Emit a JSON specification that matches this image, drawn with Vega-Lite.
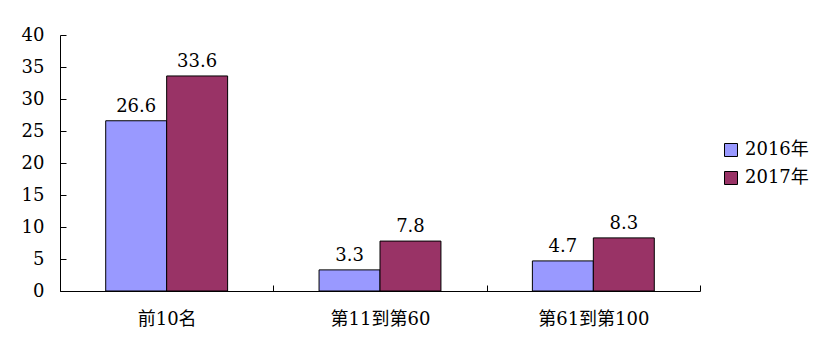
{
  "$schema": "https://vega.github.io/schema/vega-lite/v6.json",
  "width": 640,
  "height": 256,
  "autosize": {"type": "none"},
  "padding": {"left": 60, "top": 35, "right": 122, "bottom": 64},
  "background": "white",
  "config": {
    "view": {"stroke": null},
    "font": "'DejaVu Serif', 'Noto Sans CJK SC'",
    "axis": {
      "domainColor": "black",
      "tickColor": "black",
      "labelColor": "black",
      "labelFont": "'DejaVu Serif', 'Noto Sans CJK SC'",
      "labelFontSize": 18,
      "grid": false,
      "title": null
    },
    "legend": {
      "labelFont": "'DejaVu Serif', 'Noto Sans CJK SC'",
      "labelFontSize": 18,
      "labelColor": "black"
    }
  },
  "data": {
    "values": [
      {"category": "前10名", "year": "2016年", "value": 26.6},
      {"category": "前10名", "year": "2017年", "value": 33.6},
      {"category": "第11到第60", "year": "2016年", "value": 3.3},
      {"category": "第11到第60", "year": "2017年", "value": 7.8},
      {"category": "第61到第100", "year": "2016年", "value": 4.7},
      {"category": "第61到第100", "year": "2017年", "value": 8.3}
    ]
  },
  "encoding": {
    "x": {
      "field": "category",
      "type": "nominal",
      "sort": ["前10名", "第11到第60", "第61到第100"],
      "scale": {"paddingInner": 0, "paddingOuter": 0},
      "axis": {"labelAngle": 0, "tickBand": "extent", "tickSize": -6, "labelPadding": 25, "domainWidth": 1}
    },
    "xOffset": {
      "field": "year",
      "type": "nominal",
      "scale": {"paddingInner": 0, "paddingOuter": 0.75}
    },
    "y": {
      "field": "value",
      "type": "quantitative",
      "scale": {"domain": [0, 40], "nice": false},
      "axis": {"values": [0, 5, 10, 15, 20, 25, 30, 35, 40], "tickSize": -6, "labelPadding": 22}
    }
  },
  "layer": [
    {
      "mark": {"type": "bar", "stroke": "black", "strokeWidth": 1},
      "encoding": {
        "color": {
          "field": "year",
          "type": "nominal",
          "scale": {"domain": ["2016年", "2017年"], "range": ["#9999FF", "#993366"]},
          "legend": {
            "title": null,
            "orient": "none",
            "legendX": 662,
            "legendY": 106,
            "symbolType": "square",
            "symbolSize": 169,
            "symbolStrokeColor": "black",
            "symbolStrokeWidth": 1,
            "symbolOpacity": 1,
            "rowPadding": 10,
            "labelOffset": 5
          }
        }
      }
    },
    {
      "mark": {"type": "text", "baseline": "alphabetic", "dy": -9, "fontSize": 18, "color": "black"},
      "encoding": {
        "text": {"field": "value", "type": "quantitative", "format": ".1f"}
      }
    }
  ]
}
